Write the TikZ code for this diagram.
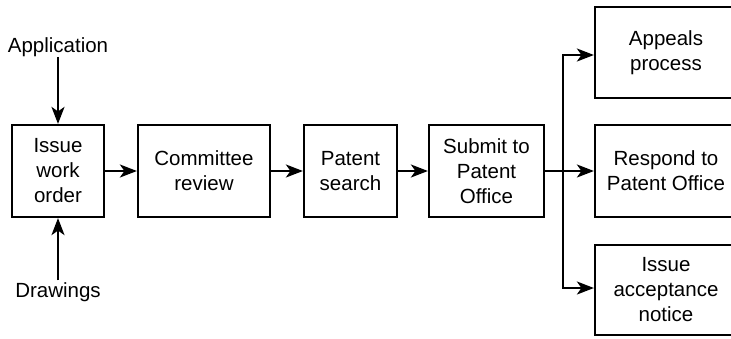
\documentclass[tikz,border=0pt]{standalone}
\usepackage{fontspec}
\setmainfont{Liberation Sans}
\usetikzlibrary{arrows.meta}
\begin{document}
\begin{tikzpicture}[x=1pt,y=-1pt,
  every node/.style={font=\fontsize{20.5}{25}\selectfont, align=center},
  box/.style={draw, line width=2.2pt, inner sep=0pt, minimum height=92pt},
  lbl/.style={inner sep=0pt},
  flow/.style={line width=2pt, -{Stealth[length=17pt,width=13pt,inset=4.5pt]}}]
  \useasboundingbox (0,0) rectangle (731,338);
  % main chain
  \node[box, minimum width=92pt]  (order)   at (58,171)    {Issue\\work\\order};
  \node[box, minimum width=132pt] (review)  at (204,171)   {Committee\\review};
  \node[box, minimum width=93pt]  (search)  at (350.5,171) {Patent\\search};
  \node[box, minimum width=115pt] (submit)  at (486.5,171) {Submit to\\Patent\\Office};
  % outcomes (right edges run off the page)
  \node[box, minimum width=142pt, minimum height=91pt] (appeal)  at (666,52.5) {Appeals\\process};
  \node[box, minimum width=142pt] (respond) at (666,171) {Respond to\\Patent Office};
  \node[box, minimum width=142pt, minimum height=90pt] (accept)  at (666,290) {Issue\\acceptance\\notice};
  % inputs
  \node[lbl] (app)  at (58,47)  {Application};
  \node[lbl, inner sep=2pt] (draw) at (58,292) {Drawings};
  \draw[flow] (app.south) -- (order.north);
  \draw[flow] (draw.north) -- (order.south);
  % chain arrows
  \draw[flow] (order) -- (review);
  \draw[flow] (review) -- (search);
  \draw[flow] (search) -- (submit);
  % branching
  \coordinate (fork) at (563,171);
  \coordinate (forktop) at (563,55);
  \coordinate (forkbot) at (563,288);
  \draw[flow] (submit.east) -- (respond.west);
  \draw[flow] (fork) -- (forktop) -- (forktop -| appeal.west);
  \draw[flow] (fork) -- (forkbot) -- (forkbot -| accept.west);
\end{tikzpicture}
\end{document}
